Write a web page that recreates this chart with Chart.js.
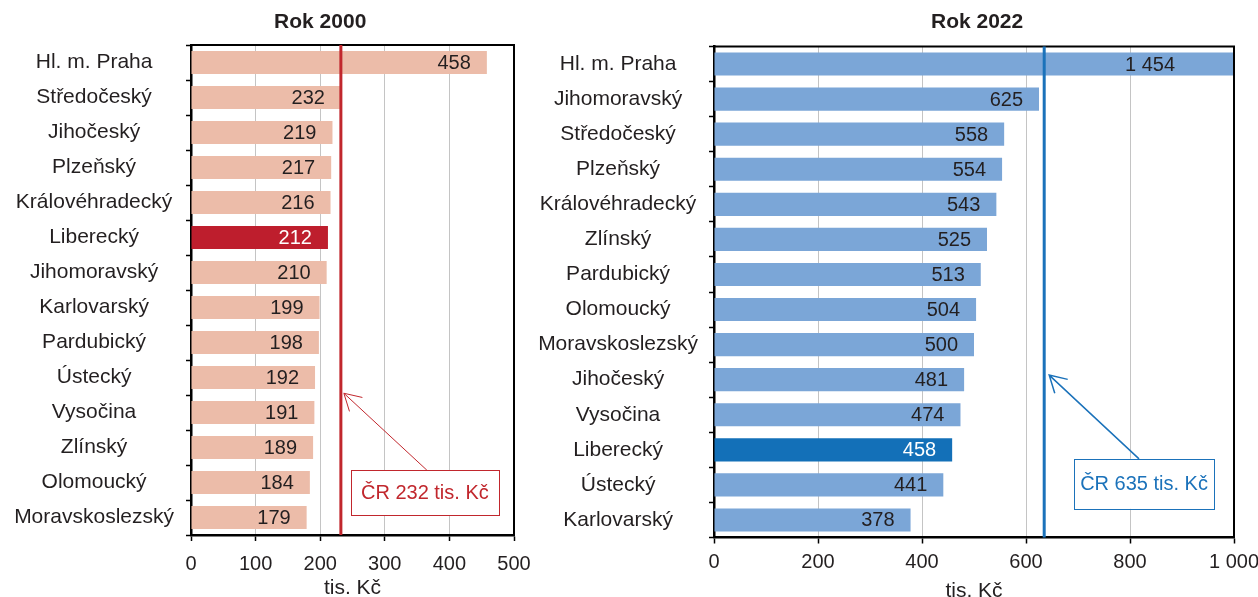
<!DOCTYPE html>
<html>
<head>
<meta charset="utf-8">
<script src="https://cdn.jsdelivr.net/npm/chart.js@4"></script>
<style>
  html,body{margin:0;padding:0;background:#fff;}
  body{width:1258px;height:597px;overflow:hidden;position:relative;}
  #w1{position:absolute;left:0;top:0;width:540px;height:599px;}
  #w2{position:absolute;left:520px;top:0;width:738px;height:602px;}
</style>
</head>
<body>
<div id="w1"><canvas id="c1"></canvas></div>
<div id="w2"><canvas id="c2"></canvas></div>
<script>
// ---- data ----
const regions2000 = ["Hl. m. Praha","Středočeský","Jihočeský","Plzeňský","Královéhradecký","Liberecký","Jihomoravský","Karlovarský","Pardubický","Ústecký","Vysočina","Zlínský","Olomoucký","Moravskoslezský"];
const values2000 = [458,232,219,217,216,212,210,199,198,192,191,189,184,179];
const regions2022 = ["Hl. m. Praha","Jihomoravský","Středočeský","Plzeňský","Královéhradecký","Zlínský","Pardubický","Olomoucký","Moravskoslezský","Jihočeský","Vysočina","Liberecký","Ústecký","Karlovarský"];
const values2022 = [1454,625,558,554,543,525,513,504,500,481,474,458,441,378];
const highlightRegion = "Liberecký";
const axis2000 = {min:0, max:500, step:100};
const axis2022 = {min:0, max:1000, step:200};
const avg2000 = 232;
const avg2022 = 635;
const title2000 = "Rok 2000";
const title2022 = "Rok 2022";
const axisTitle = "tis. Kč";
const note2000 = "ČR 232 tis. Kč";
const note2022 = "ČR 635 tis. Kč";

const FONT = '"Liberation Sans", Arial, Helvetica, sans-serif';
const TXT = '#231f20';
Chart.defaults.font.family = FONT;
Chart.defaults.color = TXT;

const fmt = n => String(n).replace(/\B(?=(\d{3})+(?!\d))/g, ' ');

const decor = {
  id: 'decor',
  afterDatasetsDraw(chart, args, o) {
    const {ctx, chartArea: a, scales: {x, y}} = chart;
    const meta = chart.getDatasetMeta(0);
    const ds = chart.data.datasets[0].data;
    ctx.save();
    // title
    ctx.font = 'bold 21px ' + FONT;
    ctx.fillStyle = TXT;
    ctx.textAlign = 'center';
    ctx.textBaseline = 'middle';
    ctx.fillText(o.title, x.getPixelForValue(o.titleX), o.titleY);
    // data labels
    ctx.font = '20px ' + FONT;
    ctx.textAlign = 'right';
    meta.data.forEach((el, i) => {
      const clipped = el.x > a.right;
      const xr = clipped ? a.right - o.clipInset : el.x - o.inset;
      ctx.fillStyle = chart.data.labels[i] === highlightRegion ? '#ffffff' : TXT;
      ctx.fillText(fmt(ds[i]), xr, el.y + 1);
    });
    // frame top/right
    ctx.strokeStyle = '#000';
    ctx.lineWidth = 2;
    ctx.beginPath();
    ctx.moveTo(a.left, a.top);
    ctx.lineTo(a.right, a.top);
    ctx.lineTo(a.right, a.bottom);
    ctx.stroke();
    // reference line
    const rx = x.getPixelForValue(o.ref);
    ctx.strokeStyle = o.color;
    ctx.lineWidth = 3;
    ctx.beginPath();
    ctx.moveTo(rx, a.top);
    ctx.lineTo(rx, a.bottom);
    ctx.stroke();
    // annotation box
    ctx.font = '20px ' + FONT;
    const tw = ctx.measureText(o.text).width;
    const bw = tw + 2 * o.padX, bh = o.boxH;
    const bx = x.getPixelForValue(o.boxX), by = y.getPixelForValue(o.boxY);
    ctx.fillStyle = '#fff';
    ctx.fillRect(bx - bw / 2, by - bh / 2, bw, bh);
    ctx.lineWidth = 1;
    ctx.strokeRect(Math.round(bx - bw / 2) + 0.5, Math.round(by - bh / 2) + 0.5, Math.round(bw), Math.round(bh));
    ctx.fillStyle = o.color;
    ctx.textAlign = 'center';
    ctx.fillText(o.text, bx, by + 1);
    // arrow
    const sx = bx + o.arrowDx, sy = by - bh / 2;
    const tx = rx + o.tipDx, ty = y.getPixelForValue(o.tipY);
    ctx.lineWidth = o.arrowW;
    ctx.beginPath();
    ctx.moveTo(sx, sy);
    ctx.lineTo(tx, ty);
    const ang = Math.atan2(sy - ty, sx - tx);
    const L = 19, da = Math.PI / 6;
    ctx.moveTo(tx + L * Math.cos(ang - da), ty + L * Math.sin(ang - da));
    ctx.lineTo(tx, ty);
    ctx.lineTo(tx + L * Math.cos(ang + da), ty + L * Math.sin(ang + da));
    ctx.stroke();
    ctx.restore();
  }
};

function makeChart(id, labels, values, axis, cfg) {
  const colors = labels.map(l => l === highlightRegion ? cfg.hi : cfg.base);
  return new Chart(document.getElementById(id), {
    type: 'bar',
    data: {
      labels: labels,
      datasets: [{
        data: values,
        backgroundColor: colors,
        borderWidth: 0,
        categoryPercentage: 1,
        barPercentage: 0.66
      }]
    },
    options: {
      indexAxis: 'y',
      responsive: true,
      maintainAspectRatio: false,
      animation: false,
      events: [],
      layout: {padding: {left: 0, right: cfg.padRight, top: cfg.padTop, bottom: 0}},
      plugins: {
        legend: {display: false},
        tooltip: {enabled: false},
        title: {display: false},
        decor: cfg.decor
      },
      scales: {
        x: {
          min: axis.min, max: axis.max,
          grid: {color: '#c4c4c4', lineWidth: 1, tickColor: '#000', tickLength: 6, tickWidth: 1.5},
          border: {color: '#000', width: 2.5},
          ticks: {stepSize: axis.step, color: TXT, font: {size: 20}, padding: cfg.xTickPad, maxRotation: 0,
                  callback: v => fmt(v)},
          title: {display: true, text: axisTitle, color: TXT, font: {size: 21, lineHeight: 1}, padding: {top: 0, bottom: 0}},
          afterFit: s => { s.height = cfg.xH; s.paddingLeft = 0; s.paddingRight = 0; }
        },
        y: {
          offset: true,
          grid: {offset: true, drawOnChartArea: false, drawTicks: true, tickLength: 5, tickColor: '#000', tickWidth: 1.5},
          border: {color: '#000', width: 2.5},
          ticks: {color: TXT, font: {size: 21}, crossAlign: 'center', padding: cfg.yTickPad, autoSkip: false},
          afterFit: s => { s.width = cfg.yW; s.paddingTop = 0; s.paddingBottom = 0; }
        }
      }
    },
    plugins: [decor]
  });
}

makeChart('c1', regions2000, values2000, axis2000, {
  base: '#ecbca9', hi: '#be1e2d',
  padRight: 26, padTop: 45, xH: 64, xTickPad: 11, yW: 191, yTickPad: 12,
  decor: {title: title2000, titleX: 200, titleY: 22,
          ref: avg2000, color: '#c1272d', text: note2000, padX: 10, boxH: 45,
          boxX: 362, boxY: 12.29, arrowDx: 2, tipDx: 3, tipY: 9.45, arrowW: 1, inset: 16, clipInset: 59}
});

makeChart('c2', regions2022, values2022, axis2022, {
  base: '#7ba6d7', hi: '#1370b8',
  padRight: 24, padTop: 46.5, xH: 64.5, xTickPad: 7, yW: 194, yTickPad: 11,
  decor: {title: title2022, titleX: 506, titleY: 22,
          ref: avg2022, color: '#1b72ba', text: note2022, padX: 6, boxH: 50,
          boxX: 827, boxY: 11.97, arrowDx: -5, tipDx: 5, tipY: 8.87, arrowW: 1.5, inset: 16, clipInset: 59}
});
</script>
</body>
</html>
